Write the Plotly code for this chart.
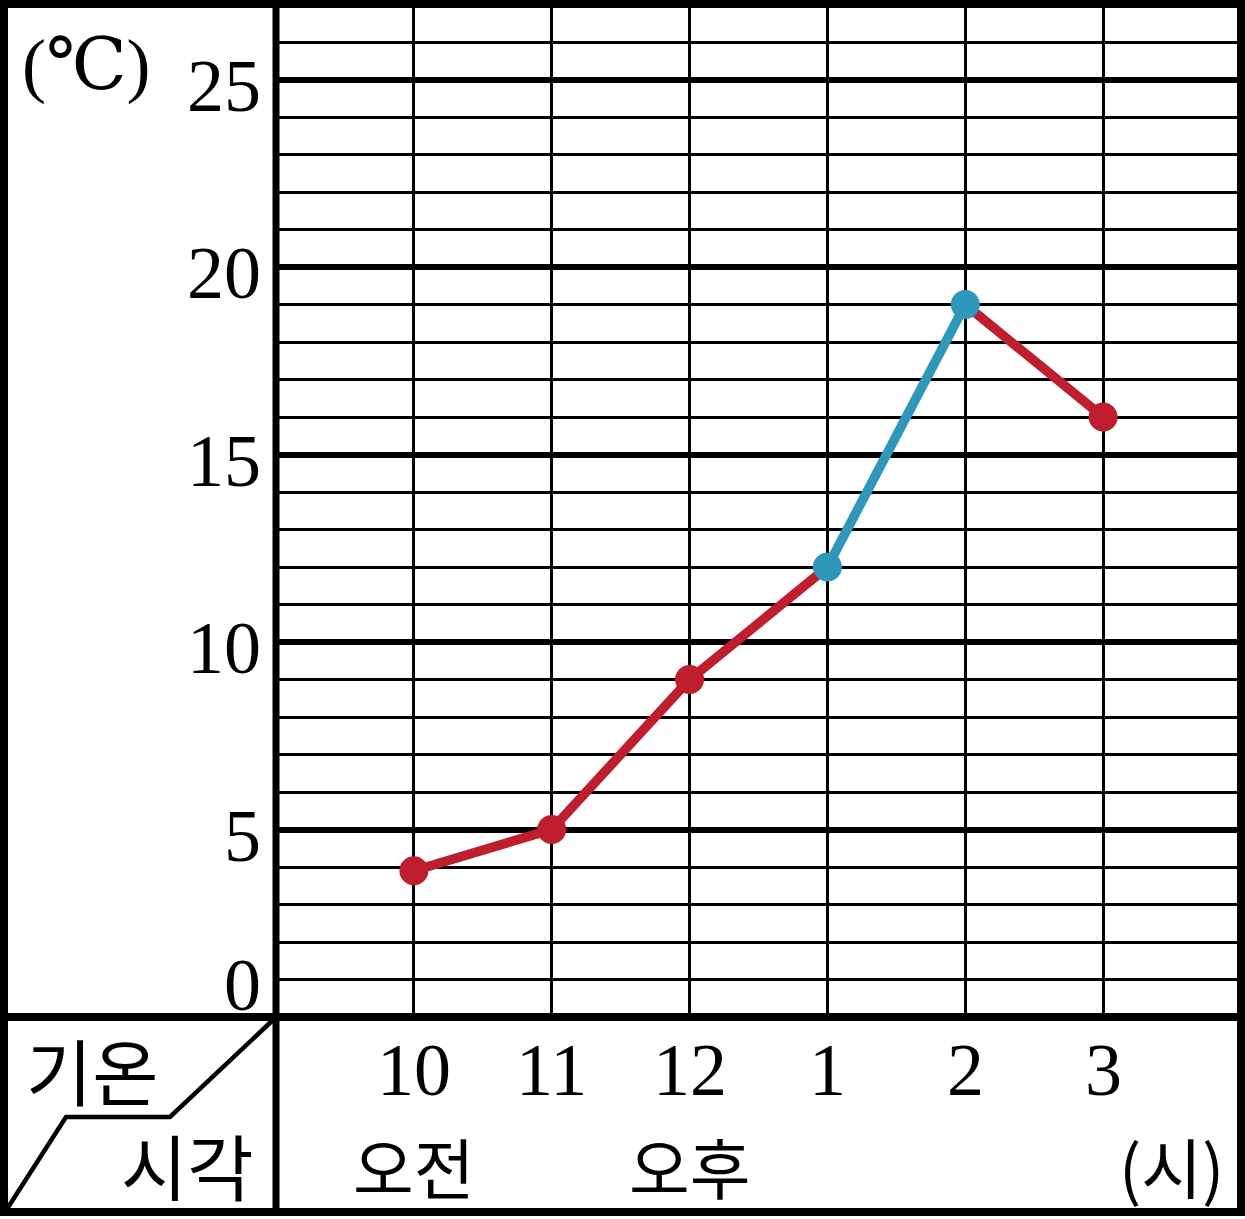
import plotly.graph_objects as go

# ---- data ----
times = ["10", "11", "12", "1", "2", "3"]
temps = [3.9, 5, 9, 12, 19, 16]
segment_colors = ["red", "red", "red", "blue", "red"]  # colour of segment i -> i+1
y_tick_values = [0, 5, 10, 15, 20, 25]
period_labels = {0: "오전", 2: "오후"}
unit_y = "(℃)"
unit_x = "(시)"
header_top = "기온"
header_bottom = "시각"

# ---- style ----
W, H = 1245, 1219
RED = "#BE1E2D"
BLUE = "#2E97BA"
COL = {"red": RED, "blue": BLUE}
SERIF = "Liberation Serif, DejaVu Serif, serif"
KR = "Noto Sans CJK KR, sans-serif"


def px(x):
    return x / W


def py(y):
    return 1 - y / H


xs = list(range(len(times)))

fig = go.Figure()

# line segments
for i, c in enumerate(segment_colors):
    fig.add_trace(go.Scatter(
        x=[xs[i], xs[i + 1]], y=[temps[i], temps[i + 1]],
        mode="lines", line=dict(color=COL[c], width=9.5),
        showlegend=False, hoverinfo="skip"))

# markers: colour of a point = blue if touching a blue segment
pt_colors = []
for i in range(len(times)):
    touching = []
    if i > 0:
        touching.append(segment_colors[i - 1])
    if i < len(segment_colors):
        touching.append(segment_colors[i])
    pt_colors.append(BLUE if "blue" in touching else RED)

fig.add_trace(go.Scatter(
    x=xs, y=temps, mode="markers",
    marker=dict(size=29, color=pt_colors, line=dict(width=0)),
    showlegend=False, hovertemplate="%{y}℃<extra></extra>"))

# ---- frame / table lines ----
shapes = []
def seg(x0, y0, x1, y1, w):
    shapes.append(dict(type="line", xref="paper", yref="paper",
                       x0=px(x0), y0=py(y0), x1=px(x1), y1=py(y1),
                       line=dict(color="black", width=w), layer="above"))

# outer border
seg(0, 4, W, 4, 8)
seg(0, 1212, W, 1212, 8)
seg(4, 0, 4, 1216, 8)
seg(1241, 0, 1241, 1216, 8)
# separators
seg(0, 1017, W, 1017, 8)
seg(276, 0, 276, 1216, 7)
# header diagonal
shapes.append(dict(type="path", xref="paper", yref="paper",
                   path=f"M {px(273)} {py(1020)} L {px(170)} {py(1117)} L {px(66)} {py(1117)} L {px(7)} {py(1209)}",
                   line=dict(color="black", width=4.5), layer="above"))

annotations = []
# y tick labels
for v in y_tick_values:
    annotations.append(dict(
        x=px(263), xref="paper", y=v, yref="y", text=str(v),
        xanchor="right", yanchor="middle", showarrow=False,
        yshift=(32 if v == 0 else -6),
        font=dict(family=SERIF, size=74, color="black")))
# x tick labels
for i, t in enumerate(times):
    annotations.append(dict(
        x=xs[i], xref="x", y=py(1070), yref="paper", text=t,
        xanchor="center", yanchor="middle", showarrow=False,
        font=dict(family=SERIF, size=74, color="black")))
for i, t in period_labels.items():
    annotations.append(dict(
        x=xs[i], xref="x", y=py(1165), yref="paper", text=t,
        xanchor="center", yanchor="middle", showarrow=False,
        font=dict(family=KR, size=66, color="black")))
# units and header
annotations += [
    dict(x=px(86), y=py(65), xref="paper", yref="paper", text=unit_y,
         showarrow=False, xanchor="center", yanchor="middle",
         font=dict(family=SERIF, size=72, color="black")),
    dict(x=px(1171), y=py(1165), xref="paper", yref="paper", text=unit_x,
         showarrow=False, xanchor="center", yanchor="middle",
         font=dict(family=KR, size=66, color="black")),
    dict(x=px(92), y=py(1068), xref="paper", yref="paper", text=header_top,
         showarrow=False, xanchor="center", yanchor="middle",
         font=dict(family=KR, size=72, color="black")),
    dict(x=px(187), y=py(1163), xref="paper", yref="paper", text=header_bottom,
         showarrow=False, xanchor="center", yanchor="middle",
         font=dict(family=KR, size=72, color="black")),
]

fig.update_layout(
    width=W, height=H,
    margin=dict(l=0, r=0, t=0, b=0),
    paper_bgcolor="white", plot_bgcolor="white",
    shapes=shapes, annotations=annotations,
    xaxis=dict(domain=[px(276), px(1241)], range=[-1, 6],
               tick0=0, dtick=1, showgrid=True, gridcolor="black", gridwidth=2.5,
               zeroline=False, showticklabels=False, ticks="", showline=False,
               fixedrange=True),
    yaxis=dict(domain=[py(1017), py(4.5)], range=[0, 27],
               tick0=0, dtick=5, showgrid=True, gridcolor="black", gridwidth=5.5,
               minor=dict(tick0=0, dtick=1, showgrid=True, gridcolor="black", gridwidth=2.5),
               zeroline=False, showticklabels=False, ticks="", showline=False,
               fixedrange=True),
)

fig.write_html("out.html", config={"displayModeBar": False},
               post_script="document.body.style.margin='0';")
